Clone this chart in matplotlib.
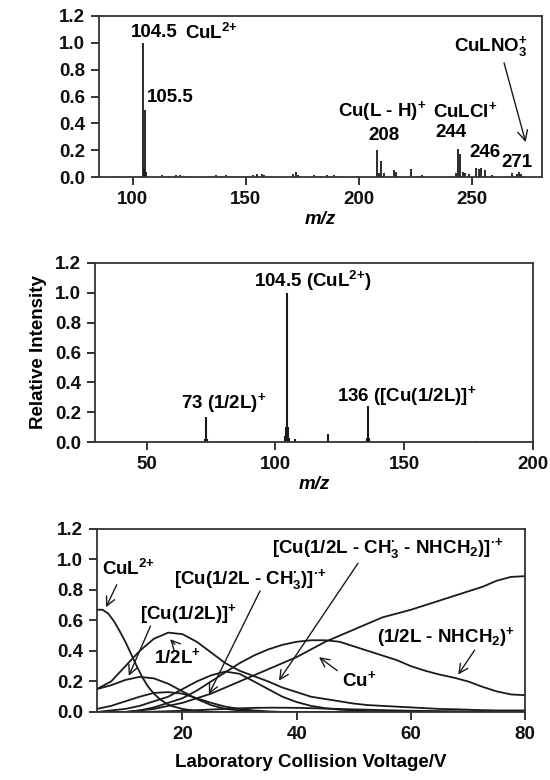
import numpy as np
import matplotlib.pyplot as plt

plt.rcParams['font.family'] = ['Liberation Sans', 'DejaVu Sans']
plt.rcParams['font.weight'] = 'bold'
plt.rcParams['mathtext.fontset'] = 'custom'
plt.rcParams['mathtext.rm'] = 'Liberation Sans:bold'
plt.rcParams['mathtext.bf'] = 'Liberation Sans:bold'
plt.rcParams['mathtext.it'] = 'Liberation Sans:bold:italic'
plt.rcParams['mathtext.default'] = 'bf'

# --- Panel 1: full MS spectrum (m/z, relative intensity) ---
ms1_mz = [93, 104.5, 105, 105.5, 106, 113, 116, 119, 121, 124, 135, 137, 139, 141, 144,
          153, 155, 157, 158, 171, 172, 173, 180, 183, 186, 189, 191, 199,
          208, 209, 210, 211, 215.5, 216.5, 223, 226, 228, 243, 244, 245, 246, 247, 249,
          252, 253, 254, 256, 259, 268, 270, 271, 272]
ms1_int = [0.01, 1.0, 0.06, 0.5, 0.04, 0.012, 0.01, 0.012, 0.015, 0.01, 0.01, 0.012, 0.01, 0.012, 0.01,
           0.015, 0.02, 0.025, 0.015, 0.02, 0.035, 0.015, 0.012, 0.01, 0.015, 0.012, 0.01, 0.01,
           0.20, 0.03, 0.12, 0.03, 0.05, 0.04, 0.06, 0.01, 0.012, 0.03, 0.21, 0.17, 0.04, 0.03, 0.02,
           0.07, 0.06, 0.07, 0.05, 0.012, 0.03, 0.025, 0.04, 0.02]

# --- Panel 2: MS/MS spectrum ---
ms2_mz = [44, 56, 72.5, 73, 73.5, 91.5, 103.8, 104.2, 104.5, 104.8, 105.2, 107.7, 110,
          120.4, 135.5, 136, 136.5, 145, 150, 178, 189.6]
ms2_int = [0.005, 0.005, 0.02, 0.17, 0.02, 0.008, 0.04, 0.1, 1.0, 0.1, 0.03, 0.02, 0.005,
           0.055, 0.03, 0.245, 0.03, 0.005, 0.005, 0.01, 0.005]

# --- Panel 3: breakdown curves vs collision voltage ---
cul2_v = [5, 6, 7, 8, 9, 10, 11, 12, 13, 14, 15, 16, 17, 18, 20, 22, 25, 80]
cul2 = [0.67, 0.67, 0.645, 0.595, 0.53, 0.46, 0.38, 0.30, 0.225, 0.165, 0.12, 0.085, 0.06, 0.04,
        0.02, 0.008, 0.0, 0.0]

voltage = [5, 7.5, 10, 12.5, 15, 17.5, 20, 22.5, 25, 27.5, 30, 32.5, 35, 37.5, 40, 42.5,
           45, 47.5, 50, 52.5, 55, 57.5, 60, 62.5, 65, 67.5, 70, 72.5, 75, 77.5, 80]
cu_half_l = [0.15, 0.175, 0.21, 0.23, 0.22, 0.185, 0.135, 0.085, 0.045, 0.02, 0.01, 0.004, 0, 0, 0, 0,
             0, 0, 0, 0, 0, 0, 0, 0, 0, 0, 0, 0, 0, 0, 0]
half_l = [0.15, 0.20, 0.30, 0.40, 0.48, 0.52, 0.51, 0.46, 0.39, 0.32, 0.27, 0.235, 0.20, 0.16, 0.13, 0.10,
          0.085, 0.07, 0.055, 0.045, 0.04, 0.035, 0.03, 0.025, 0.02, 0.018, 0.015, 0.012, 0.01, 0.01, 0.01]
small_bump = [0.02, 0.04, 0.07, 0.10, 0.125, 0.13, 0.12, 0.09, 0.06, 0.035, 0.02, 0.01, 0.004, 0, 0, 0,
              0, 0, 0, 0, 0, 0, 0, 0, 0, 0, 0, 0, 0, 0, 0]
cu_ch3 = [0.0, 0.01, 0.02, 0.04, 0.07, 0.10, 0.15, 0.20, 0.24, 0.265, 0.25, 0.20, 0.15, 0.10, 0.065, 0.04,
          0.025, 0.015, 0.01, 0.006, 0.004, 0.003, 0.002, 0, 0, 0, 0, 0, 0, 0, 0]
cu_ch3_nhch2 = [0, 0, 0, 0, 0.002, 0.005, 0.008, 0.012, 0.016, 0.02, 0.024, 0.027, 0.028, 0.028, 0.027, 0.025,
                0.022, 0.02, 0.017, 0.015, 0.012, 0.01, 0.008, 0.007, 0.006, 0.005, 0.004, 0.004, 0.003, 0.003, 0.003]
cu_plus = [0.0, 0.0, 0.0, 0.01, 0.02, 0.04, 0.06, 0.09, 0.12, 0.16, 0.20, 0.24, 0.28, 0.32, 0.36, 0.41,
           0.46, 0.50, 0.54, 0.58, 0.62, 0.645, 0.67, 0.70, 0.73, 0.76, 0.79, 0.82, 0.86, 0.885, 0.89]
half_l_nhch2 = [0.0, 0.0, 0.0, 0.01, 0.03, 0.06, 0.09, 0.14, 0.20, 0.26, 0.32, 0.37, 0.41, 0.44, 0.46, 0.47,
                0.47, 0.46, 0.43, 0.40, 0.37, 0.34, 0.30, 0.27, 0.245, 0.225, 0.20, 0.165, 0.135, 0.115, 0.11]

yticks = [0.0, 0.2, 0.4, 0.6, 0.8, 1.0, 1.2]
FS = 13.5
ink = '#1a1a1a'

fig = plt.figure(figsize=(5.5, 7.8), dpi=100)
ax1 = fig.add_axes([0.18, 0.773, 0.805, 0.2065])
ax2 = fig.add_axes([0.173, 0.433, 0.796, 0.230])
ax3 = fig.add_axes([0.176, 0.0872, 0.779, 0.2348])


def style(ax):
    for s in ax.spines.values():
        s.set_linewidth(1.3)
        s.set_color('#333333')
    ax.tick_params(direction='out', length=6, width=1.2, labelsize=FS, colors='#111111', pad=4)
    ax.set_ylim(0, 1.2)
    ax.set_yticks(yticks)
    ax.set_yticklabels([f'{t:.1f}' for t in yticks], fontweight='bold')
    for lab in ax.get_xticklabels():
        lab.set_fontweight('bold')


# panel 1
ax1.vlines(ms1_mz, 0, ms1_int, color=ink, lw=1.3)
ax1.set_xlim(85, 281)
ax1.set_xticks([100, 150, 200, 250])
style(ax1)
ax1.set_xlabel('m/z', fontsize=FS, fontstyle='italic', fontweight='bold', labelpad=2)
ax1.text(99.2, 1.08, '104.5', fontsize=FS, va='center')
ax1.text(123, 1.07, 'CuL$^{2{+}}$', fontsize=FS, va='center')
ax1.text(106.2, 0.59, '105.5', fontsize=FS, va='center')
ax1.text(190.7, 0.49, 'Cu(L - H)$^{+}$', fontsize=FS, va='center')
ax1.text(211, 0.31, '208', fontsize=FS, va='center', ha='center')
ax1.text(232.9, 0.49, 'CuLCl$^{+}$', fontsize=FS, va='center')
ax1.text(240.9, 0.33, '244', fontsize=FS, va='center', ha='center')
ax1.text(255.8, 0.18, '246', fontsize=FS, va='center', ha='center')
ax1.text(270.2, 0.11, '271', fontsize=FS, va='center', ha='center')
ax1.text(258.7, 0.97, 'CuLNO$_3^{+}$', fontsize=FS, va='center', ha='center')
ax1.annotate('', xy=(274.2, 0.24), xytext=(264, 0.87),
             arrowprops=dict(arrowstyle='->', color=ink, lw=1.0, mutation_scale=18))

# panel 2
ax2.vlines(ms2_mz, 0, ms2_int, color=ink, lw=1.5)
ax2.set_xlim(30, 200)
ax2.set_xticks([50, 100, 150, 200])
style(ax2)
ax2.set_xlabel('m/z', fontsize=FS, fontstyle='italic', fontweight='bold', labelpad=2)
ax2.set_ylabel('Relative Intensity', fontsize=FS, fontweight='bold', labelpad=6)
ax2.text(91.5, 1.08, '104.5 (CuL$^{2{+}}$)', fontsize=FS, va='center')
ax2.text(63.5, 0.26, '73 (1/2L)$^{+}$', fontsize=FS, va='center')
ax2.text(124, 0.31, '136 ([Cu(1/2L)]$^{+}$', fontsize=FS, va='center')

# panel 3
ax3.plot(cul2_v, cul2, color=ink, lw=1.3)
for series in [cu_half_l, half_l, small_bump, cu_ch3, cu_ch3_nhch2, cu_plus, half_l_nhch2]:
    ax3.plot(voltage, series, color=ink, lw=1.3)
ax3.set_xlim(5, 80)
ax3.set_xticks([20, 40, 60, 80])
style(ax3)
ax3.set_xlabel('Laboratory Collision Voltage/V', fontsize=13.5, fontweight='bold', labelpad=8)

arrow = dict(arrowstyle='->', color=ink, lw=1.0, mutation_scale=16)
ax3.text(5.9, 0.94, 'CuL$^{2{+}}$', fontsize=FS, va='center')
ax3.annotate('', xy=(6.4, 0.67), xytext=(8.7, 0.85), arrowprops=arrow)
ax3.text(12.5, 0.64, '[Cu(1/2L)]$^{+}$', fontsize=FS, va='center')
ax3.annotate('', xy=(10.4, 0.22), xytext=(14.6, 0.58), arrowprops=arrow)
ax3.text(15.1, 0.36, '1/2L$^{+}$', fontsize=FS, va='center')
ax3.annotate('', xy=(17.5, 0.49), xytext=(19, 0.43), arrowprops=arrow)
ax3.text(18.6, 0.87, '[Cu(1/2L - CH$_3^{·}$)]$^{·{+}}$', fontsize=FS, va='center')
ax3.annotate('', xy=(24.4, 0.10), xytext=(33.8, 0.81), arrowprops=arrow)
ax3.text(35.6, 1.07, '[Cu(1/2L - CH$_3^{·}$ - NHCH$_2$)]$^{·{+}}$', fontsize=FS, va='center')
ax3.annotate('', xy=(36.6, 0.19), xytext=(51, 0.99), arrowprops=arrow)
ax3.text(54, 0.49, '(1/2L - NHCH$_2$)$^{+}$', fontsize=FS, va='center')
ax3.annotate('', xy=(68, 0.23), xytext=(71.4, 0.42), arrowprops=arrow)
ax3.text(48, 0.21, 'Cu$^{+}$', fontsize=FS, va='center')
ax3.annotate('', xy=(43.5, 0.37), xytext=(47.5, 0.26), arrowprops=arrow)

fig.savefig('out.png', dpi=100)
